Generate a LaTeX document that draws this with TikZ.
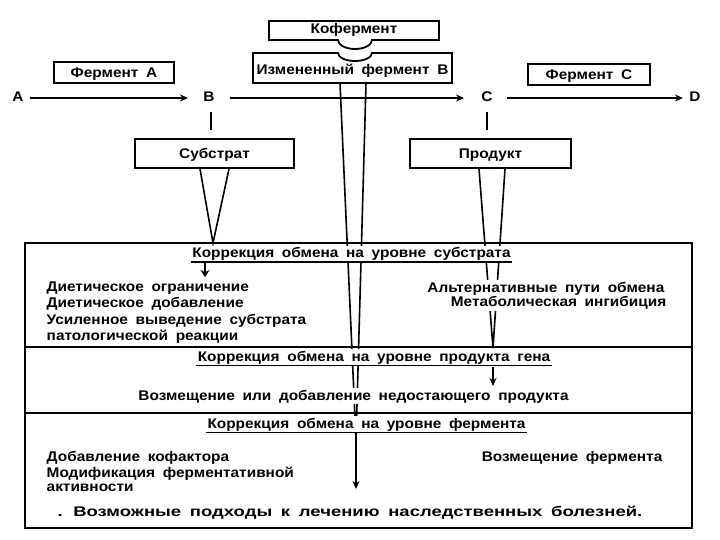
\documentclass[tikz,border=0pt]{standalone}
\usepackage{fontspec}
\setmainfont{Liberation Sans}[FakeStretch=1.1,WordSpace=1.8]
\newfontfamily\footfont{Liberation Sans}[FakeStretch=1.32,WordSpace=1.7]
\usetikzlibrary{arrows.meta}
\begin{document}
\begin{tikzpicture}[x=1bp,y=-1bp,
  txt/.style={font=\bfseries\fontsize{14bp}{16bp}\selectfont, inner sep=1.5bp},
  wtxt/.style={txt, fill=white},
  boxn/.style={draw, line width=1.8bp, inner sep=0pt},
  boxline/.style={line width=1.8bp},
  ln/.style={line width=1.6bp},
  ul/.style={line width=1.4bp},
  arr/.style={line width=1.6bp, -{Stealth[length=8bp,width=7bp]}},
  sarr/.style={line width=2.2bp, -{Stealth[length=7bp,width=9bp]}}]
\useasboundingbox (0,0) rectangle (720,540);
\fill[white] (0,0) rectangle (720,540);

% --- top boxes
\node[minimum width=170bp, minimum height=19bp, inner sep=0pt] (kof) at (354,30.5) {};
\draw[boxline] (269,21) -- (439,21) -- (439,40) -- (372,40)
  arc[start angle=0, end angle=180, x radius=17, y radius=9] -- (269,40) -- cycle;
\node[txt, anchor=base] (kofT) at (354,34) {Кофермент};

\node[minimum width=199bp, minimum height=30bp, inner sep=0pt] (izm) at (352.5,68) {};
\draw[boxline] (253,53) -- (338,53)
  arc[start angle=180, end angle=0, x radius=17, y radius=8] -- (452,53) -- (452,83) -- (253,83) -- cycle;
\node[txt, anchor=base] (izmT) at (352.5,75) {Измененный фермент В};

\node[boxn, minimum width=120bp, minimum height=21bp] (fa) at (114,72.5) {};
\node[txt, anchor=base] (faT) at (114,78) {Фермент А};
\node[boxn, minimum width=122bp, minimum height=21bp] (fc) at (589,74.5) {};
\node[txt, anchor=base] (fcT) at (589,79.5) {Фермент С};

% --- main row
\node[txt, anchor=base] (A) at (18,102) {A};
\node[txt, anchor=base] (B) at (209,102) {B};
\node[txt, anchor=base] (C) at (487,102) {C};
\node[txt, anchor=base] (D) at (695,102) {D};
\coordinate (a0) at (30,98);  \coordinate (a1) at (188,98);
\coordinate (b0) at (230,98); \coordinate (b1) at (464,98);
\coordinate (c0) at (507,98); \coordinate (c1) at (683,98);
\draw[arr] (a0) -- (a1);
\draw[arr] (b0) -- (b1);
\draw[arr] (c0) -- (c1);

% ticks
\draw[line width=2bp] (211,112) -- (211,130);
\draw[line width=2bp] (487,112) -- (487,130);

% --- substrate / product boxes
\node[boxn, minimum width=159bp, minimum height=29bp] (sub) at (214.5,153.5) {};
\node[txt, anchor=base] (subT) at (214.5,158.5) {Субстрат};
\node[boxn, minimum width=161bp, minimum height=29bp] (prod) at (490.5,153.5) {};
\node[txt, anchor=base] (prodT) at (490.5,158.5) {Продукт};

% --- converging lines
\coordinate (subtip) at (213,243);
\coordinate (prodtip) at (493,348);
\coordinate (izmtip) at (356,440);
\draw[ln] ([xshift=-14.5bp]sub.south) -- (subtip) -- ([xshift=14.5bp]sub.south);
\draw[ln] ([xshift=-11.5bp]prod.south) -- (prodtip) -- ([xshift=14.5bp]prod.south);
\draw[ln] ([xshift=-12.5bp]izm.south) -- (izmtip) -- ([xshift=13.5bp]izm.south);

% --- texts in frame
\node[wtxt, anchor=base] (h1) at (351.5,257.5) {Коррекция обмена на уровне субстрата};
\node[wtxt, anchor=base] (h2) at (374,361) {Коррекция обмена на уровне продукта гена};
\node[wtxt, anchor=base] (t3) at (353.5,400) {Возмещение или добавление недостающего продукта};
\node[wtxt, anchor=base] (h4) at (366.5,428) {Коррекция обмена на уровне фермента};

\node[wtxt, anchor=base west] (l1) at (45,291) {Диетическое ограничение};
\node[wtxt, anchor=base west] (l2) at (45,307.5) {Диетическое добавление};
\node[wtxt, anchor=base west] (l3) at (45,324) {Усиленное выведение субстрата};
\node[wtxt, anchor=base west] (l4) at (45,340) {патологической реакции};
\node[wtxt, anchor=base east] (r1) at (666,292) {Альтернативные пути обмена};
\node[wtxt, anchor=base east] (r2) at (668,306.5) {Метаболическая ингибиция};

\node[wtxt, anchor=base west] (m1) at (45,461.5) {Добавление кофактора};
\node[wtxt, anchor=base west] (m2) at (45,477) {Модификация ферментативной};
\node[wtxt, anchor=base west] (m3) at (45,491.5) {активности};
\node[wtxt, anchor=base east] (r3) at (664,461.5) {Возмещение фермента};

\node[wtxt, anchor=base, font=\footfont\bfseries\fontsize{14bp}{16bp}\selectfont] (foot) at (350,516) {. Возможные подходы к лечению наследственных болезней.};

% underlines
\draw[ul] (h1.south west) -- (h1.south east);
\draw[ul] (h2.south west) -- (h2.south east);
\draw[ul] (h4.south west) -- (h4.south east);

% small arrows
\coordinate (sa0) at (205,263); \coordinate (sa1) at (205,277);
\draw[sarr] (sa0) -- (sa1);
\coordinate (pa0) at (493,367); \coordinate (pa1) at (493,386);
\draw[arr] (pa0) -- (pa1);
\coordinate (ia1) at (356,489);
\draw[arr] (izmtip) -- (ia1);

% frame and separators
\node[draw, line width=1.8bp, minimum width=667bp, minimum height=285bp, inner sep=0pt] (frame) at (358.5,385.5) {};
\draw[ln] (frame.west |- 0,347) -- (frame.east |- 0,347);
\draw[ln] (frame.west |- 0,413) -- (frame.east |- 0,413);
\end{tikzpicture}
\end{document}
